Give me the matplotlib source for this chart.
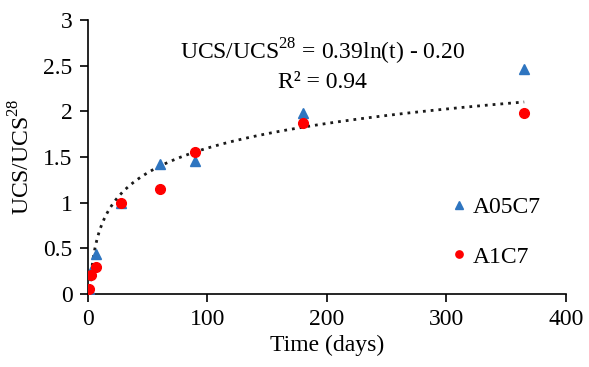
import matplotlib
matplotlib.use("Agg")
import matplotlib.pyplot as plt
import numpy as np

plt.rcParams['font.family'] = ['Liberation Serif', 'DejaVu Serif']
plt.rcParams['mathtext.fontset'] = 'custom'
plt.rcParams['mathtext.rm'] = 'Liberation Serif'

t_a05 = [1, 3, 7, 28, 60, 90, 180, 365]
ucs_a05 = [0.05, 0.25, 0.44, 1.00, 1.42, 1.46, 1.98, 2.46]
t_a1 = [1, 3, 7, 28, 60, 90, 180, 365]
ucs_a1 = [0.05, 0.21, 0.29, 1.00, 1.15, 1.55, 1.87, 1.98]
coef_a, coef_b = 0.39, -0.20

fig = plt.figure(figsize=(5.89, 3.67), dpi=100)
ax = fig.add_axes([0.149, 0.199, 0.812, 0.747])

ax.plot(t_a05, ucs_a05, linestyle='none', marker='^', color='#2E75C0', markersize=7.5, label='A05C7', zorder=3)
ax.plot(t_a1, ucs_a1, linestyle='none', marker='o', color='#FF0000', markersize=7, label='A1C7', zorder=3)

tt = np.linspace(1, 365, 800)
yy = coef_a * np.log(tt) + coef_b
ax.plot(tt, yy, linestyle=(0, (1, 1.8)), color='#1a1a1a', linewidth=2.0, zorder=2)

ax.set_xlim(0, 400)
ax.set_ylim(0, 3)
ax.set_xticks([0, 100, 200, 300, 400])
ax.set_yticks([0, 0.5, 1, 1.5, 2, 2.5, 3])
ax.set_yticklabels(['0', '0.5', '1', '1.5', '2', '2.5', '3'])
for s in ['top', 'right']:
    ax.spines[s].set_visible(False)
for s in ['left', 'bottom']:
    ax.spines[s].set_linewidth(1.2)
ax.tick_params(axis='both', labelsize=17, length=6, width=1.2, direction='out', pad=5)

ax.set_xlabel('Time (days)', fontsize=17, labelpad=3)
ax.set_ylabel(r'UCS/UCS$^{28}$', fontsize=17)
ax.yaxis.set_label_coords(-0.112, 0.5)

ax.text(0.49, 0.883, 'UCS/UCS$^{28}$ = 0.39ln(t) - 0.20', transform=ax.transAxes, fontsize=17, ha='center', va='center')
ax.text(0.49, 0.77, 'R² = 0.94', transform=ax.transAxes, fontsize=17, ha='center', va='center')

leg = ax.legend(loc='center left', bbox_to_anchor=(0.756, 0.226), frameon=False, fontsize=17,
                handletextpad=0.2, labelspacing=1.2, handlelength=0.8, borderpad=0,
                borderaxespad=0, markerscale=0.75)

fig.savefig('out.png', dpi=100)
